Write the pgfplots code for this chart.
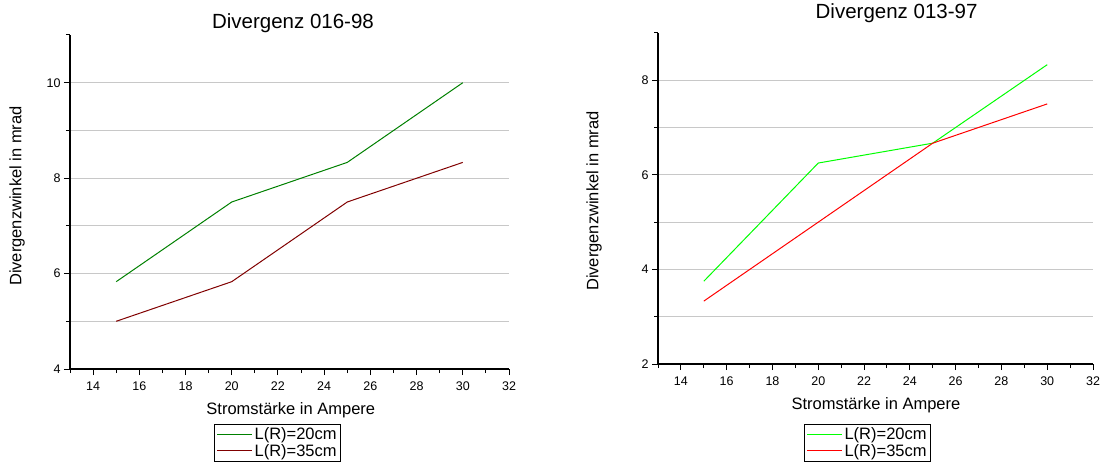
\documentclass[border=0pt]{standalone}
\usepackage{fontspec}
\setmainfont{Liberation Sans}
\usepackage{pgfplots}
\pgfplotsset{compat=1.18}
\definecolor{dgreen}{RGB}{0,128,0}
\definecolor{dred}{RGB}{128,0,0}
\definecolor{lgreen}{RGB}{0,255,0}
\definecolor{lred}{RGB}{255,0,0}
\definecolor{gridgray}{RGB}{200,200,200}
\pgfplotsset{
  mystyle/.style={
    scale only axis,
    axis lines=left,
    axis line style={-, line width=1.3pt, black},
    tick align=outside,
    major tick length=6pt,
    minor tick length=4pt,
    tick style={black, line width=1pt},
    xmin=13, xmax=32,
    xtick={14,16,...,32},
    minor xtick={13,15,...,31},
    ymajorgrids, yminorgrids,
    major grid style={gridgray, line width=1pt},
    minor grid style={gridgray, line width=1pt},
    tick label style={font=\fontsize{12.5}{14}\selectfont},
    xticklabel style={yshift=-3pt},
    /pgf/number format/assume math mode=true,
    label style={font=\fontsize{16.5}{19}\selectfont},
    title style={font=\fontsize{20.5}{24}\selectfont, anchor=center},
    xlabel style={anchor=center},
    ylabel style={anchor=center},
    legend style={font=\fontsize{16.5}{19}\selectfont, draw=black, line width=1pt,
      anchor=north, inner sep=2pt, row sep=0pt, nodes={inner sep=1.5pt}},
    legend cell align=left,
    legend image code/.code={\draw[#1, line width=1.2pt] (2pt,0.5pt) -- (37pt,0.5pt);},
    extra tick style={ymajorgrids=false, major tick length=4pt},
    extra y tick labels={},
  }
}
\begin{document}
\begin{tikzpicture}[x=1pt,y=1pt]
\useasboundingbox (0,0) rectangle (1102,466);
\begin{axis}[mystyle,
  at={(70pt,97pt)}, anchor=south west,
  width=439pt, height=334pt,
  ymin=4, ymax=11,
  ytick={4,6,8,10}, minor ytick={5,7,9},
  extra y ticks={11},
  title={Divergenz 016-98},
  title style={at={(axis description cs:0.508,1.018)}},
  xlabel={Stromstärke in Ampere},
  xlabel style={at={(axis description cs:0.503,-0.1228)}},
  ylabel={Divergenzwinkel in mrad},
  ylabel style={at={(axis description cs:-0.1207,0.518)}},
  legend style={at={(axis description cs:0.4727,-0.1647)}},
]
\addplot[color=dgreen, line width=1pt] coordinates {(15,5.83) (20,7.5) (25,8.33) (30,10)};
\addlegendentry{L(R)=20cm}
\addplot[color=dred, line width=1pt] coordinates {(15,5) (20,5.83) (25,7.5) (30,8.33)};
\addlegendentry{L(R)=35cm}
\end{axis}
\begin{axis}[mystyle,
  at={(658pt,102pt)}, anchor=south west,
  width=435pt, height=331pt,
  ymin=2, ymax=9,
  ytick={2,4,6,8}, minor ytick={3,5,7},
  extra y ticks={9},
  title={Divergenz 013-97},
  title style={at={(axis description cs:0.5485,1.042)}},
  xlabel={Stromstärke in Ampere},
  xlabel style={at={(axis description cs:0.501,-0.1239)}},
  ylabel={Divergenzwinkel in mrad},
  ylabel style={at={(axis description cs:-0.1471,0.4925)}},
  legend style={at={(axis description cs:0.4816,-0.1813)}},
]
\addplot[color=lgreen, line width=1pt] coordinates {(15,3.75) (20,6.25) (25,6.67) (30,8.33)};
\addlegendentry{L(R)=20cm}
\addplot[color=lred, line width=1pt] coordinates {(15,3.33) (20,5) (25,6.67) (30,7.5)};
\addlegendentry{L(R)=35cm}
\end{axis}
\end{tikzpicture}
\end{document}
